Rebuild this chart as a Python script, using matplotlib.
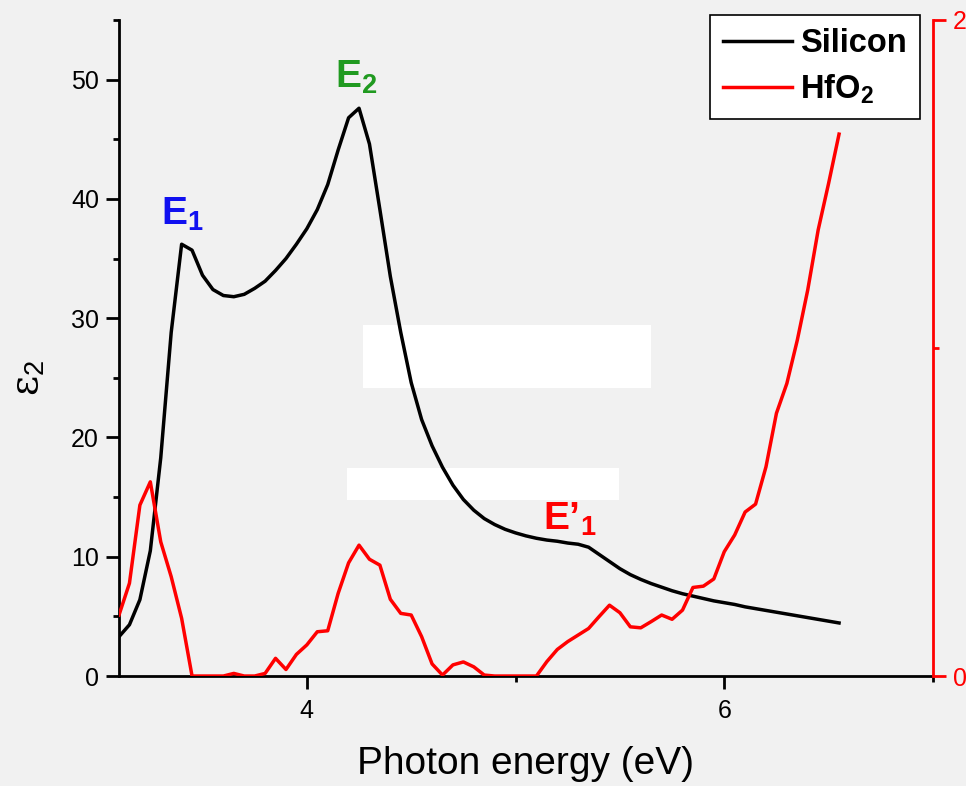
import matplotlib
matplotlib.use("Agg")
import matplotlib.pyplot as plt
from matplotlib.patches import Rectangle
from matplotlib.ticker import MultipleLocator, FixedLocator

plt.rcParams['font.family'] = ['Liberation Sans', 'DejaVu Sans']
plt.rcParams['mathtext.fontset'] = 'custom'
plt.rcParams['mathtext.rm'] = 'Liberation Sans'
plt.rcParams['mathtext.bf'] = 'Liberation Sans:bold'
plt.rcParams['mathtext.it'] = 'Liberation Sans:italic'

# energia del fotón (eV), paso de 0.05
energia = [3.10, 3.15, 3.20, 3.25, 3.30, 3.35, 3.40, 3.45, 3.50, 3.55,
           3.60, 3.65, 3.70, 3.75, 3.80, 3.85, 3.90, 3.95, 4.00, 4.05,
           4.10, 4.15, 4.20, 4.25, 4.30, 4.35, 4.40, 4.45, 4.50, 4.55,
           4.60, 4.65, 4.70, 4.75, 4.80, 4.85, 4.90, 4.95, 5.00, 5.05,
           5.10, 5.15, 5.20, 5.25, 5.30, 5.35, 5.40, 5.45, 5.50, 5.55,
           5.60, 5.65, 5.70, 5.75, 5.80, 5.85, 5.90, 5.95, 6.00, 6.05,
           6.10, 6.15, 6.20, 6.25, 6.30, 6.35, 6.40, 6.45, 6.50, 6.55]

# epsilon_2 del silicio (eje izquierdo)
eps2_si = [3.3, 4.3, 6.4, 10.5, 18.3, 28.8, 36.2, 35.7, 33.6, 32.4,
           31.9, 31.8, 32.0, 32.5, 33.1, 34.0, 35.0, 36.2, 37.5, 39.1,
           41.2, 44.1, 46.8, 47.6, 44.6, 39.1, 33.5, 28.8, 24.6, 21.5,
           19.3, 17.5, 16.0, 14.8, 13.9, 13.2, 12.7, 12.3, 12.0, 11.75,
           11.55, 11.4, 11.3, 11.15, 11.05, 10.8, 10.2, 9.6, 9.0, 8.5,
           8.1, 7.75, 7.45, 7.15, 6.9, 6.7, 6.5, 6.3, 6.15, 6.0,
           5.8, 5.65, 5.5, 5.35, 5.2, 5.05, 4.9, 4.75, 4.6, 4.45]

# epsilon_2 del HfO2 (eje derecho)
eps2_hfo2 = [0.186, 0.283, 0.521, 0.592, 0.409, 0.303, 0.176, 0.0, 0.0, 0.0,
             0.0, 0.008, 0.0, 0.0, 0.008, 0.054, 0.020, 0.066, 0.095, 0.135,
             0.138, 0.252, 0.345, 0.399, 0.356, 0.338, 0.234, 0.191, 0.186, 0.120,
             0.037, 0.003, 0.034, 0.043, 0.028, 0.003, 0.0, 0.0, 0.0, 0.0,
             0.0, 0.044, 0.081, 0.105, 0.125, 0.145, 0.181, 0.216, 0.193, 0.150,
             0.147, 0.166, 0.186, 0.173, 0.201, 0.270, 0.274, 0.296, 0.379, 0.430,
             0.500, 0.524, 0.638, 0.801, 0.892, 1.024, 1.177, 1.360, 1.502, 1.652]

# etiquetas de transiciones: (texto, x, y, color)
etiquetas = [
    (r'E$_\mathbf{1}$', 3.30, 37.8, '#1010f0'),
    (r'E$_\mathbf{2}$', 4.135, 49.3, '#209a20'),
    (r'E’$_\mathbf{1}$', 5.13, 12.3, '#ff0000'),
]

fig = plt.figure(figsize=(9.66, 7.86), dpi=100)
fig.patch.set_facecolor('#f1f1f1')
ax = fig.add_axes([0.1232, 0.1399, 0.8426, 0.8347])
ax.set_facecolor('none')

# rectangulos blancos del fondo
for (x0, y0, w, h) in [(363, 325, 288, 63), (347, 468, 272, 32)]:
    ax.add_patch(Rectangle((x0 / 966, 1 - (y0 + h) / 786), w / 966, h / 786,
                           transform=fig.transFigure, facecolor='white',
                           edgecolor='none', zorder=0.5))

l1, = ax.plot(energia, eps2_si, color='black', lw=2.5, label='Silicon', zorder=3)
ax.set_xlim(3.1, 7.0)
ax.set_ylim(0, 55)

ax2 = ax.twinx()
ax2.set_facecolor('none')
l2, = ax2.plot(energia, eps2_hfo2, color='#ff0000', lw=2.5, label=r'HfO$_\mathbf{2}$')
ax2.set_ylim(0, 2)

ax.spines['top'].set_visible(False)
ax2.spines['top'].set_visible(False)
ax2.spines['left'].set_visible(False)
ax2.spines['bottom'].set_visible(False)
ax.spines['right'].set_visible(False)
for s in ['left', 'bottom']:
    ax.spines[s].set_linewidth(2)
ax2.spines['right'].set_linewidth(2)
ax2.spines['right'].set_color('#ff0000')

ax.xaxis.set_major_locator(FixedLocator([4, 6]))
ax.xaxis.set_minor_locator(FixedLocator([3, 5, 7]))
ax.yaxis.set_major_locator(MultipleLocator(10))
ax.yaxis.set_minor_locator(MultipleLocator(5))
ax.tick_params(which='major', direction='out', length=9.4, width=2,
               labelsize=18, pad=5)
ax.tick_params(which='minor', direction='out', length=4.6, width=2)
ax.tick_params(axis='x', which='major', pad=7)

ax2.yaxis.set_major_locator(FixedLocator([0, 2]))
ax2.yaxis.set_minor_locator(FixedLocator([1]))
ax2.tick_params(which='major', direction='out', length=9.4, width=2,
                labelsize=18, pad=5, colors='#ff0000')
ax2.tick_params(which='minor', direction='out', length=4.6, width=2,
                colors='#ff0000')

ax.set_xlabel('Photon energy (eV)', fontsize=28, labelpad=17)
ax.set_ylabel('ε$_2$', fontsize=28, family=['DejaVu Serif'])
ax.yaxis.set_label_coords(-0.088, 0.454)

for texto, x, y, c in etiquetas:
    ax.text(x, y, texto, color=c, fontsize=28, fontweight='bold',
            va='baseline', ha='left', zorder=4)

leg = ax2.legend(handles=[l1, l2], loc='upper left',
                 bbox_to_anchor=(0.7264, 1.0076), frameon=True, fancybox=False,
                 prop={'size': 23.5, 'weight': 'bold'}, handlelength=2.1,
                 handletextpad=0.25, borderpad=0.4, labelspacing=0.42,
                 borderaxespad=0)
leg.get_frame().set_edgecolor('black')
leg.get_frame().set_linewidth(1.2)
leg.get_frame().set_facecolor('white')
leg.get_frame().set_alpha(1)
for line in leg.get_lines():
    line.set_linewidth(2.5)

fig.savefig('out.png', dpi=100, facecolor=fig.get_facecolor())
